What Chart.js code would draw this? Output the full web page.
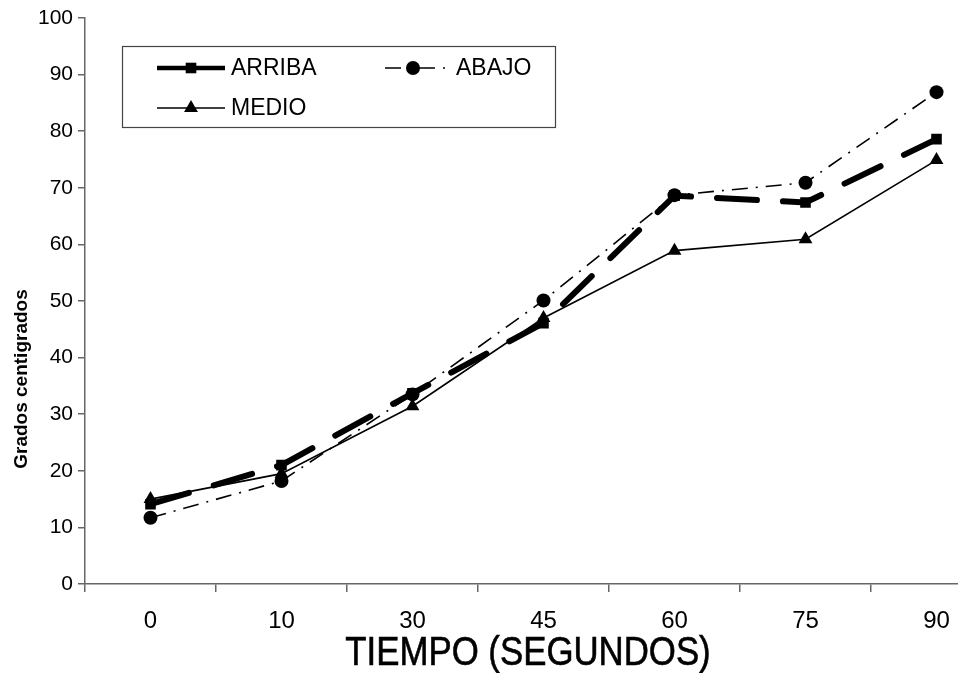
<!DOCTYPE html>
<html lang="es">
  <head>
    <meta charset="UTF-8" />
    <title>Temperatura vs tiempo</title>
    <script src="https://cdn.jsdelivr.net/npm/chart.js"></script>
    <style>
      html,
      body {
        margin: 0;
        padding: 0;
        background: #fff;
        overflow: hidden;
      }
      #wrap {
        width: 1010px;
        height: 673px;
      }
    </style>
  </head>
  <body>
    <div id="wrap"><canvas id="tempChart" width="1010" height="673"></canvas></div>

    <script>
      // Datos de la medicion
      const tiempos = ['0', '10', '30', '45', '60', '75', '90']
      const arriba = [14.1, 21, 33.7, 46.1, 68.6, 67.4, 78.6]
      const abajo = [11.7, 18.2, 33.5, 50.1, 68.7, 70.9, 86.9]
      const medio = [15, 19.5, 31.4, 47, 58.9, 60.9, 74.9]
      const yTicks = [0, 10, 20, 30, 40, 50, 60, 70, 80, 90, 100]

      const FONT = "Arial, 'Liberation Sans', sans-serif"

      // leyenda con marco y titulos de los ejes
      const legendBox = {
        id: 'legendBox',
        afterDraw(chart) {
          const ctx = chart.ctx
          ctx.save()
          ctx.fillStyle = '#fff'
          ctx.fillRect(122, 46, 433, 81)
          ctx.strokeStyle = '#444'
          ctx.lineWidth = 1.2
          ctx.strokeRect(122.5, 46.5, 433, 81)

          const items = [
            { ds: 0, x: 157, y: 68, w: 68, width: 4.5, dash: [], mx: 34 },
            { ds: 1, x: 385, y: 68, w: 65, width: 1.6, dash: [16, 8, 2, 8], mx: 28 },
            { ds: 2, x: 157, y: 108, w: 68, width: 1.6, dash: [], mx: 34 },
          ]
          items.forEach((it) => {
            const ds = chart.data.datasets[it.ds]
            ctx.strokeStyle = '#000'
            ctx.fillStyle = '#000'
            ctx.lineWidth = it.width
            ctx.setLineDash(it.dash)
            ctx.beginPath()
            ctx.moveTo(it.x, it.y)
            ctx.lineTo(it.x + it.w, it.y)
            ctx.stroke()
            ctx.setLineDash([])
            Chart.helpers.drawPoint(
              ctx,
              { pointStyle: ds.pointStyle, radius: ds.pointRadius, borderWidth: 0 },
              it.x + it.mx,
              it.y
            )
            ctx.fillStyle = '#000'
            ctx.font = '23px ' + FONT
            ctx.textAlign = 'left'
            ctx.textBaseline = 'middle'
            ctx.fillText(ds.label, it.x + it.w + 6, it.y + 1)
          })

          // titulo del eje x, un poco estrecho
          ctx.save()
          ctx.translate(528, 654)
          ctx.scale(0.87, 1)
          ctx.fillStyle = '#000'
          ctx.strokeStyle = '#000'
          ctx.lineWidth = 0.6
          ctx.font = '40px ' + FONT
          ctx.textAlign = 'center'
          ctx.textBaseline = 'middle'
          ctx.fillText('TIEMPO (SEGUNDOS)', 0, 0)
          ctx.strokeText('TIEMPO (SEGUNDOS)', 0, 0)
          ctx.restore()

          // titulo del eje y
          ctx.translate(22, 379)
          ctx.rotate(-Math.PI / 2)
          ctx.fillStyle = '#000'
          ctx.textAlign = 'center'
          ctx.textBaseline = 'middle'
          ctx.font = 'bold 19px ' + FONT
          ctx.fillText('Grados centigrados', 0, 0)
          ctx.restore()
        },
      }

      new Chart(document.getElementById('tempChart'), {
        type: 'line',
        data: {
          labels: tiempos,
          datasets: [
            {
              label: 'ARRIBA',
              data: arriba,
              borderColor: '#000',
              backgroundColor: '#000',
              borderWidth: 6,
              borderDash: [40, 26],
              borderCapStyle: 'round',
              pointStyle: 'rect',
              pointRadius: 7.5,
              pointBorderWidth: 0,
              tension: 0,
            },
            {
              label: 'ABAJO',
              data: abajo,
              borderColor: '#000',
              backgroundColor: '#000',
              borderWidth: 1.6,
              borderDash: [16, 8, 2, 8],
              pointStyle: 'circle',
              pointRadius: 7,
              pointBorderWidth: 0,
              tension: 0,
            },
            {
              label: 'MEDIO',
              data: medio,
              borderColor: '#000',
              backgroundColor: '#000',
              borderWidth: 1.6,
              pointStyle: 'triangle',
              pointRadius: 8,
              pointBorderWidth: 0,
              tension: 0,
            },
          ],
        },
        options: {
          responsive: false,
          animation: false,
          layout: { padding: { top: 18, right: 1, left: 0, bottom: 0 } },
          plugins: {
            legend: { display: false },
            tooltip: { enabled: false },
          },
          scales: {
            x: {
              offset: true,
              grid: {
                offset: true,
                drawOnChartArea: false,
                drawTicks: true,
                tickLength: 8,
                color: '#666',
                lineWidth: 1.5,
              },
              border: { color: '#666', width: 1.5 },
              ticks: {
                color: '#000',
                font: { family: FONT, size: 24 },
                padding: 15,
                maxRotation: 0,
              },
              afterFit(scale) {
                scale.height = 89
              },
            },
            y: {
              min: 0,
              max: 100,
              afterBuildTicks(scale) {
                scale.ticks = yTicks.map((v) => ({ value: v }))
              },
              grid: {
                drawOnChartArea: false,
                drawTicks: true,
                tickLength: 7,
                color: '#666',
                lineWidth: 1.5,
              },
              border: { color: '#666', width: 1.5 },
              ticks: {
                color: '#000',
                font: { family: FONT, size: 21 },
                padding: 5,
              },
              afterFit(scale) {
                scale.width = 85
              },
            },
          },
        },
        plugins: [legendBox],
      })
    </script>
  </body>
</html>
